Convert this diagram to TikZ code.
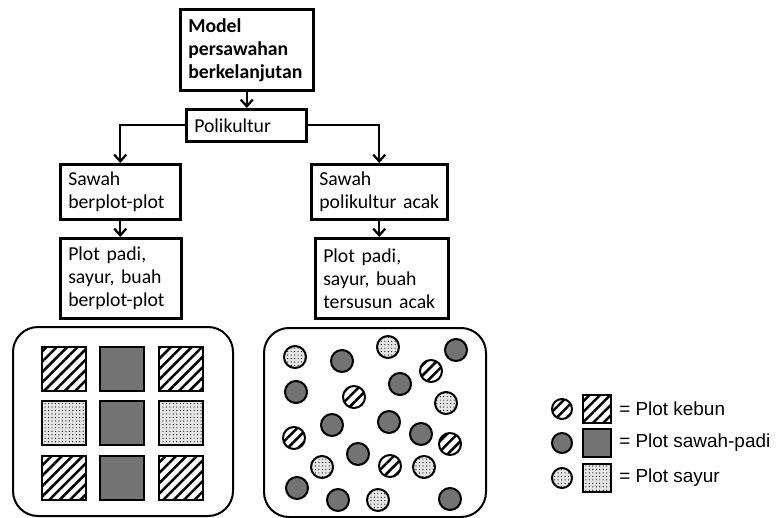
\documentclass[tikz,border=0pt]{standalone}
\usepackage{fontspec}
\setmainfont{Carlito}
\newfontfamily\legendfont{Liberation Sans}
\usetikzlibrary{arrows.meta,patterns.meta}

\newcommand{\boxfont}{\fontsize{14.8}{17.25}\selectfont}

\tikzset{
  box/.style={draw,line width=1.9pt,anchor=north west,align=left,
    inner xsep=6pt,inner ysep=0pt,font=\boxfont},
  arr/.style={line width=1.7pt,-{Straight Barb[length=5pt,width=9pt]}},
  field/.style={draw,line width=1.5pt,rounded corners=18.75pt},
  kebun/.style={preaction={pattern={Lines[angle=45,distance=5.5pt,line width=1.9pt]}},
    draw,line width=1.5pt},
  padi/.style={fill=black!55,draw,line width=1.5pt},
  sayur/.style={preaction={fill=black!10},
    preaction={pattern={Dots[radius=0.45pt,distance=2.6pt]}},
    draw,line width=1.5pt}
}

\begin{document}
\begin{tikzpicture}[x=0.75pt,y=-0.75pt]
  \useasboundingbox (0,0) rectangle (776,518);

  % flow chart
  \node[box,text width=87.75pt,minimum height=60.75pt,font=\boxfont\bfseries] (model) at (179,8)
    {Model\\persawahan\\berkelanjutan};
  \node[box,text width=78pt,minimum height=24pt] (poli) at (185,108) {Polikultur};
  \node[box,text width=78pt,minimum height=41.25pt] (sawahA) at (59,163) {Sawah\\berplot-plot};
  \node[box,text width=78.75pt,minimum height=60pt] (plotA) at (59,237) {Plot padi,\\sayur, buah\\berplot-plot};
  \node[box,text width=90pt,minimum height=41.25pt] (sawahB) at (310,163) {Sawah\\polikultur acak};
  \node[box,text width=87.75pt,minimum height=60pt] (plotB) at (314,237) {Plot padi,\\sayur, buah\\tersusun acak};

  \draw[arr] (model.south) -- (model.south |- poli.north);
  \draw[arr] (poli.west) -| (sawahA.north);
  \draw[arr] (poli.east) -| (sawahB.north);
  \draw[arr] (sawahA.south) -- (sawahA.south |- plotA.north);
  \draw[arr] (sawahB.south) -- (sawahB.south |- plotB.north);

  % plot fields
  \draw[field] (13,327) rectangle (233,516);
  \draw[field] (264,328) rectangle (486,517);

  \foreach \xx/\yy/\kind in {42/347/kebun,100/347/padi,159/347/kebun,
      42/401/sayur,100/401/padi,159/401/sayur,
      42/456/kebun,100/456/padi,159/456/kebun}
    \draw[\kind] (\xx,\yy) rectangle ++(44,44);

  \foreach \xx/\yy/\kind in {295/357/sayur,342/361/padi,388/347/sayur,456/350/padi,
      431/371/kebun,296/392/padi,400/384/padi,354/397/kebun,446/403/sayur,
      332/425/padi,389/422/padi,421/434/padi,294/438/kebun,450/444/kebun,
      358/454/padi,322/467/sayur,390/466/kebun,424/467/sayur,
      297/488/padi,338/500/padi,378/500/sayur,450/499/padi}
    \draw[\kind] (\xx,\yy) circle[radius=8.25pt];

  % legend
  \foreach \yy/\kind/\name/\txt in {409/kebun/lkebun/{= Plot kebun},
      443/padi/lpadi/{= Plot sawah-padi},478/sayur/lsayur/{= Plot sayur}} {
    \draw[\kind] (562,\yy) circle[radius=7.5pt];
    \draw[\kind] (583,\yy-14) rectangle ++(28,28);
    \node[anchor=west,inner sep=0pt,font=\legendfont\fontsize{14.2}{17}\selectfont] (\name) at (619,\yy) {\txt};
  }
\end{tikzpicture}
\end{document}
